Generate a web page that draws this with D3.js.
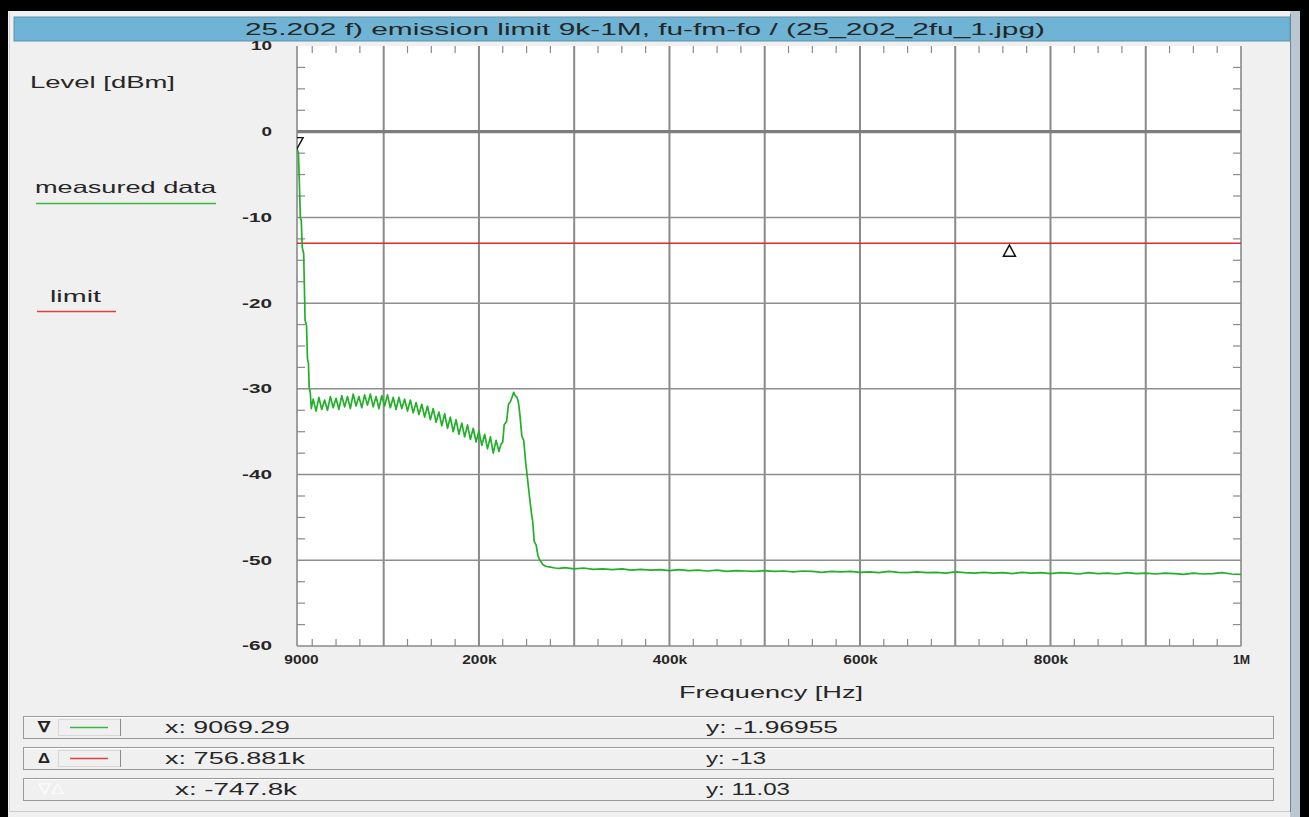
<!DOCTYPE html>
<html>
<head>
<meta charset="utf-8">
<script src="https://cdn.jsdelivr.net/npm/d3@7"></script>
<style>
  html, body { margin: 0; padding: 0; background: #000; }
  svg { display: block; font-family: "Liberation Sans", Arial, sans-serif; }
</style>
</head>
<body>
<svg id="chart" width="1309" height="817"></svg>
<script>
// ---- data ---------------------------------------------------------------
const titleText = "25.202 f) emission limit 9k-1M, fu-fm-fo / (25_202_2fu_1.jpg)";

// measured spectrum: frequency in kHz, level in dBm
const measuredFreqKHz = [
  9.069, 10.5, 11.5, 12.5, 13.5, 14.5, 16, 17.5, 19, 20, 21, 21.8, 23, 24,
  26, 29, 32, 35, 38, 41, 44, 47, 50, 53, 56, 59, 62, 65, 68, 71, 74, 77, 80, 83,
  86, 89, 92, 95, 98, 101, 104, 107, 110, 113, 116, 119, 122, 125, 128, 131, 134,
  137, 140, 143, 146, 149, 152, 155, 158, 161, 164, 167, 170, 173, 176, 179, 182,
  185, 188, 191, 194, 197, 200, 203, 206, 209, 212, 215, 218, 221, 223, 225,
  226.5, 229, 231, 233, 235, 236.5, 238, 240, 241.5, 243, 245, 247, 249, 251,
  253, 255, 256.5, 258, 260, 262, 264, 267, 270, 275, 280,
  285, 290, 300, 310, 320, 330, 340, 350, 360, 370, 380, 390, 400, 410, 420, 430,
  440, 450, 460, 470, 480, 490, 500, 510, 520, 530, 540, 550, 560, 570, 580, 590,
  600, 610, 620, 630, 640, 650, 660, 670, 680, 690, 700, 710, 720, 730, 740, 750,
  760, 770, 780, 790, 800, 810, 820, 830, 840, 850, 860, 870, 880, 890, 900, 910,
  920, 930, 940, 950, 960, 970, 980, 990, 1000
];
const measuredLevel = [
  -1.97, -2.5, -6, -10, -10.4, -13.5, -14.2, -22, -22.6, -26.5, -27, -29.8, -30.5, -32.3,
  -31.2, -32.6, -31.0, -32.4, -31.3, -32.5, -30.9, -32.2, -31.1, -32.4, -30.8, -32.1, -30.9, -32.3, -30.6, -32.0, -30.9, -32.2, -30.7, -31.9,
  -30.6, -32.1, -30.9, -32.3, -30.8, -32.0, -30.7, -32.2, -31.0, -32.4, -31.0, -32.3, -31.2, -32.6, -31.3, -32.8, -31.6,
  -33.0, -31.8, -33.3, -32.0, -33.6, -32.3, -33.9, -32.7, -34.3, -32.9, -34.6, -33.3, -35.0, -33.6, -35.3, -34.0,
  -35.6, -34.2, -35.9, -34.6, -36.2, -34.9, -36.6, -35.3, -37.0, -35.6, -37.5, -36.0, -37.3, -36.5, -36.2,
  -34.2, -33.8, -31.8, -31.5, -30.9, -30.4, -30.8, -31.0, -31.6, -33.0, -35.5, -36.0, -38.5, -40.5,
  -42.5, -44.4, -45.5, -47.8, -48.2, -49.5, -50.0, -50.5, -50.7, -50.8, -50.9,
  -50.95, -50.85, -51.0, -50.9, -51.05, -51.0, -51.1, -51.0, -51.15, -51.05, -51.15, -51.1, -51.2, -51.1, -51.2, -51.15,
  -51.25, -51.15, -51.3, -51.2, -51.25, -51.3, -51.2, -51.3, -51.25, -51.35, -51.25, -51.3, -51.4, -51.3, -51.35, -51.3,
  -51.4, -51.35, -51.45, -51.3, -51.4, -51.45, -51.35, -51.45, -51.4, -51.5, -51.35, -51.45, -51.5, -51.4, -51.5, -51.45,
  -51.55, -51.4, -51.5, -51.45, -51.55, -51.45, -51.5, -51.6, -51.45, -51.55, -51.5, -51.6, -51.45, -51.55, -51.5, -51.6,
  -51.5, -51.55, -51.65, -51.5, -51.6, -51.55, -51.45, -51.6, -51.65
];

// limit line (dBm) over the whole span
const limitFreqKHz = [9, 1000];
const limitLevel = [-13, -13];

// markers
const marker1 = { freq: 9069.29, level: -1.96955 };   // ∇ on measured data
const marker2 = { freq: 756881, level: -13 };         // Δ on limit

// axes
const xTickValues = [9000, 200000, 400000, 600000, 800000, 1000000];
const xTickLabels = ["9000", "200k", "400k", "600k", "800k", "1M"];
const yTickValues = [-60, -50, -40, -30, -20, -10, 0, 10];
const yTickLabels = ["-60", "-50", "-40", "-30", "-20", "-10", "0", "10"];

// ---- drawing ------------------------------------------------------------
const svg = d3.select("#chart");
const W = 1309, H = 817;
const plot = { left: 297, right: 1241, top: 46, bottom: 646 };
const TEXT = "#262626";

const x = d3.scaleLinear().domain([9000, 1000000]).range([plot.left, plot.right]);
const y = d3.scaleLinear().domain([-60, 10]).range([plot.bottom, plot.top]);

// the GUI font is drawn wide; stretch each label to its on-screen width
function wideText(sel, len) {
  return sel.attr("textLength", len).attr("lengthAdjust", "spacingAndGlyphs");
}

// window frame
svg.append("rect").attr("width", W).attr("height", H).attr("fill", "#000");
svg.append("rect").attr("x", 8).attr("y", 11).attr("width", 1292).attr("height", 806).attr("fill", "#f0f0f0");
svg.append("rect").attr("x", 1290).attr("y", 11).attr("width", 10).attr("height", 806).attr("fill", "#b9c8d0");
svg.append("line").attr("x1", 1290.5).attr("x2", 1290.5).attr("y1", 14).attr("y2", 812).attr("stroke", "#6f8290").attr("stroke-width", 1);
svg.append("line").attr("x1", 9).attr("x2", 1290).attr("y1", 811.5).attr("y2", 811.5).attr("stroke", "#c4ccd2").attr("stroke-width", 1);
svg.append("line").attr("x1", 9.5).attr("x2", 9.5).attr("y1", 12).attr("y2", 812).attr("stroke", "#d0d6da").attr("stroke-width", 1);

// title bar
svg.append("rect").attr("x", 14).attr("y", 17).attr("width", 1276).attr("height", 24)
  .attr("fill", "#6fb4d4").attr("stroke", "#5d94ad").attr("stroke-width", 1);
wideText(svg.append("text").attr("x", 645).attr("y", 35).attr("text-anchor", "middle")
  .attr("font-size", 17).attr("fill", TEXT).text(titleText), 800);

// plot background
svg.append("rect").attr("x", plot.left).attr("y", plot.top)
  .attr("width", plot.right - plot.left).attr("height", plot.bottom - plot.top).attr("fill", "#fff");

// grid
const grid = svg.append("g");
d3.range(100000, 1000000, 100000).forEach(f => {
  grid.append("line").attr("x1", x(f)).attr("x2", x(f)).attr("y1", plot.top).attr("y2", plot.bottom)
    .attr("stroke", "#8a8a8a").attr("stroke-width", 2);
});
[-50, -40, -30, -20, -10].forEach(v => {
  grid.append("line").attr("x1", plot.left).attr("x2", plot.right).attr("y1", y(v)).attr("y2", y(v))
    .attr("stroke", "#8e8e8e").attr("stroke-width", 1.5);
});
grid.append("line").attr("x1", plot.left).attr("x2", plot.right).attr("y1", y(0)).attr("y2", y(0))
  .attr("stroke", "#7d7d7d").attr("stroke-width", 3.2);

// frame (left, right, bottom)
const frame = svg.append("g").attr("stroke", "#8a8a8a").attr("stroke-width", 1.6);
frame.append("line").attr("x1", plot.left).attr("x2", plot.left).attr("y1", plot.top).attr("y2", plot.bottom);
frame.append("line").attr("x1", plot.right).attr("x2", plot.right).attr("y1", plot.top).attr("y2", plot.bottom);
frame.append("line").attr("x1", plot.left).attr("x2", plot.right).attr("y1", plot.bottom).attr("y2", plot.bottom);

// minor ticks
const minor = svg.append("g").attr("stroke", "#8a8a8a").attr("stroke-width", 1.2);
d3.range(25000, 1000000, 25000).filter(f => f % 100000 !== 0).forEach(f => {
  minor.append("line").attr("x1", x(f)).attr("x2", x(f)).attr("y1", plot.top).attr("y2", plot.top + 7);
  minor.append("line").attr("x1", x(f)).attr("x2", x(f)).attr("y1", plot.bottom).attr("y2", plot.bottom - 7);
});
d3.range(-57.5, 10, 2.5).filter(v => v % 10 !== 0).forEach(v => {
  minor.append("line").attr("x1", plot.left).attr("x2", plot.left + 8).attr("y1", y(v)).attr("y2", y(v));
  minor.append("line").attr("x1", plot.right).attr("x2", plot.right - 8).attr("y1", y(v)).attr("y2", y(v));
});

// axes labels
const xAxis = d3.axisBottom(x).tickValues(xTickValues).tickSize(0).tickPadding(0)
  .tickFormat((d, i) => xTickLabels[i]);
const gx = svg.append("g").attr("transform", `translate(0,${plot.bottom + 8})`).call(xAxis);
gx.select(".domain").remove();
gx.selectAll("text").attr("font-size", 13).attr("font-weight", "bold").attr("fill", TEXT)
  .attr("font-family", "Liberation Sans, Arial, sans-serif").attr("dy", "0.8em")
  .attr("textLength", (d, i) => xTickLabels[i].length * 8.6).attr("lengthAdjust", "spacingAndGlyphs");
gx.selectAll("text").filter(d => d === 9000).attr("x", 4);

const yAxis = d3.axisLeft(y).tickValues(yTickValues).tickSize(0).tickPadding(0)
  .tickFormat((d, i) => yTickLabels[i]);
const gy = svg.append("g").attr("transform", `translate(${plot.left - 25},0)`).call(yAxis);
gy.select(".domain").remove();
gy.selectAll("text").attr("font-size", 13).attr("font-weight", "bold").attr("fill", TEXT)
  .attr("font-family", "Liberation Sans, Arial, sans-serif").attr("dy", "0.3em")
  .attr("textLength", (d, i) => yTickLabels[i].replace("-", "").length * 10.5 + (yTickLabels[i][0] === "-" ? 9 : 0))
  .attr("lengthAdjust", "spacingAndGlyphs");

wideText(svg.append("text").attr("x", 771).attr("y", 698).attr("text-anchor", "middle")
  .attr("font-size", 16.5).attr("fill", TEXT).text("Frequency [Hz]"), 184);

// legend / level label
wideText(svg.append("text").attr("x", 30).attr("y", 88).attr("font-size", 16.5).attr("fill", TEXT).text("Level [dBm]"), 145);
wideText(svg.append("text").attr("x", 35).attr("y", 193).attr("font-size", 16.5).attr("fill", TEXT).text("measured data"), 181);
svg.append("line").attr("x1", 36).attr("x2", 216).attr("y1", 203.5).attr("y2", 203.5).attr("stroke", "#3cb444").attr("stroke-width", 1.3);
wideText(svg.append("text").attr("x", 50).attr("y", 302).attr("font-size", 16.5).attr("fill", TEXT).text("limit"), 51);
svg.append("line").attr("x1", 37).attr("x2", 116).attr("y1", 311.5).attr("y2", 311.5).attr("stroke", "#e04040").attr("stroke-width", 1.3);

// traces, clipped to the plot area
svg.append("clipPath").attr("id", "plotClip").append("rect")
  .attr("x", plot.left).attr("y", plot.top).attr("width", plot.right - plot.left).attr("height", plot.bottom - plot.top);
const traces = svg.append("g").attr("clip-path", "url(#plotClip)");

const line = d3.line().x(d => x(d[0] * 1000)).y(d => y(d[1])).curve(d3.curveLinear);

traces.append("path").datum(limitFreqKHz.map((f, i) => [f, limitLevel[i]]))
  .attr("d", line).attr("fill", "none").attr("stroke", "#e02a2a").attr("stroke-width", 1.5);

traces.append("path").datum(measuredFreqKHz.map((f, i) => [f, measuredLevel[i]]))
  .attr("d", line).attr("fill", "none").attr("stroke", "#22b02a").attr("stroke-width", 1.7)
  .attr("stroke-linejoin", "round");

// marker ∇ (tip on the point) and Δ (tip on the point)
const m1x = x(marker1.freq), m1y = y(marker1.level);
traces.append("path").attr("d", `M${m1x - 5},${m1y - 11}L${m1x + 6},${m1y - 11}L${m1x},${m1y}Z`)
  .attr("fill", "none").attr("stroke", "#111").attr("stroke-width", 1.4);
const m2x = x(marker2.freq), m2y = y(marker2.level);
traces.append("path").attr("d", `M${m2x},${m2y + 2}L${m2x + 6},${m2y + 13}L${m2x - 6},${m2y + 13}Z`)
  .attr("fill", "#fff").attr("stroke", "#111").attr("stroke-width", 1.5);

// marker readout rows
const hyphen = s => s.replace(/\u2212/g, "-");
const rows = [
  { sym: "∇", color: "#3cb444",
    x: "x: " + d3.format(".6~r")(marker1.freq), y: "y: " + marker1.level, tx: 165, xl: 125, yl: 132 },
  { sym: "Δ", color: "#e04040",
    x: "x: " + d3.format(".6~r")(marker2.freq / 1000) + "k", y: "y: " + marker2.level, tx: 165, xl: 140, yl: 60 },
  { sym: "∇Δ", color: null,
    x: hyphen("x: " + d3.format(".4~r")((marker1.freq - marker2.freq) / 1000) + "k"),
    y: hyphen("y: " + d3.format(".4~r")(marker1.level - marker2.level)), tx: 175, xl: 122, yl: 84 }
];
rows.forEach((r, i) => {
  const top = 716 + i * 31;
  const g = svg.append("g");
  g.append("rect").attr("x", 23.5).attr("y", top + 0.5).attr("width", 1250).attr("height", 22)
    .attr("fill", "#f0f0f0").attr("stroke", "#9a9a9a").attr("stroke-width", 1);
  g.append("line").attr("x1", 24).attr("x2", 1273).attr("y1", top + 1.5).attr("y2", top + 1.5).attr("stroke", "#fff");
  if (r.color) {
    wideText(g.append("text").attr("x", 38).attr("y", top + 16)
      .attr("font-size", 15).attr("font-weight", "bold").attr("fill", "#222").text(r.sym), 12);
    g.append("rect").attr("x", 58.5).attr("y", top + 3.5).attr("width", 62).attr("height", 16)
      .attr("fill", "#f0f0f0").attr("stroke", "#d8d8d8");
    g.append("line").attr("x1", 120.5).attr("x2", 120.5).attr("y1", top + 3).attr("y2", top + 20).attr("stroke", "#8a8a8a");
    g.append("line").attr("x1", 70).attr("x2", 108).attr("y1", top + 11.5).attr("y2", top + 11.5)
      .attr("stroke", r.color).attr("stroke-width", 1.3);
  } else {
    wideText(g.append("text").attr("x", 38).attr("y", top + 16)
      .attr("font-size", 15).attr("fill", "#fbfbfb").text(r.sym), 26);
  }
  wideText(g.append("text").attr("x", r.tx).attr("y", top + 17).attr("font-size", 16.5).attr("fill", TEXT).text(r.x), r.xl);
  wideText(g.append("text").attr("x", 706).attr("y", top + 17).attr("font-size", 16.5).attr("fill", TEXT).text(r.y), r.yl);
});
</script>
</body>
</html>
